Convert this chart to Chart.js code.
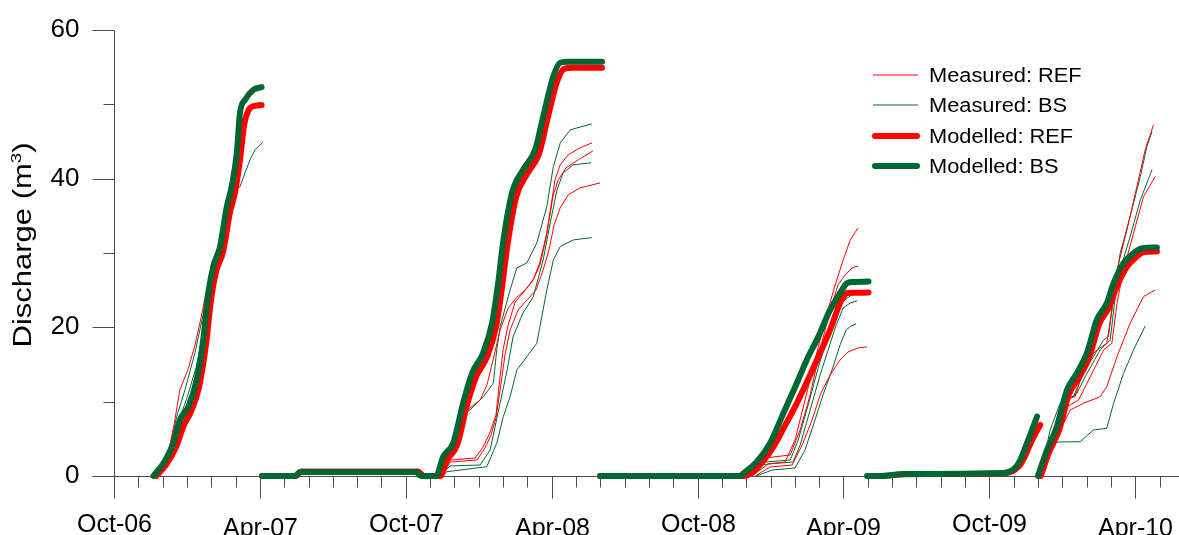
<!DOCTYPE html>
<html>
<head>
<meta charset="utf-8">
<title>Discharge</title>
<script src="https://cdn.jsdelivr.net/npm/chart.js@4"></script>
<style>
  html, body { margin: 0; padding: 0; background: #fff; }
</style>
</head>
<body>
<canvas id="dischargeChart" width="1179" height="535"></canvas>
<script>
// x = months since 1 Oct 2006, y = cumulative discharge (m3)
const tickLabels = ['Oct-06', 'Apr-07', 'Oct-07', 'Apr-08', 'Oct-08', 'Apr-09', 'Oct-09', 'Apr-10'];
const yMajor = [0, 20, 40, 60];
const yMinor = [10, 30, 50];
const legendLabels = ['Measured: REF', 'Measured: BS', 'Modelled: REF', 'Modelled: BS'];

// modelled, one array per continuous run
const modREF_0607 = [[1.73,0],[2.14,1.5],[2.55,3.9],[2.88,6.9],[3.17,8.7],[3.50,12.0],[3.78,17.6],[3.99,23.7],[4.20,27.5],[4.48,30.1],[4.77,35.5],[4.98,38.2],[5.18,42.5],[5.35,47.2],[5.55,49.3],[5.80,49.8],[6.07,49.9]];
const modBS_0607 = [[1.62,0],[2.03,1.71],[2.44,4.40],[2.71,7.54],[3.06,9.33],[3.40,12.92],[3.67,18.30],[3.88,24.59],[4.08,28.17],[4.36,30.86],[4.64,36.24],[4.84,38.93],[5.05,43.43],[5.18,48.82],[5.39,50.61],[5.73,51.95],[6.07,52.31]];
const modREF_0708 = [[6.09,0],[7.49,0],[7.69,0.62],[12.50,0.62],[12.75,0],[13.41,0],[13.70,2.15],[14.11,4.17],[14.52,9.56],[14.89,13.32],[15.34,16.02],[15.71,20.05],[15.96,25.44],[16.17,30.82],[16.54,37.55],[16.99,40.65],[17.48,43.34],[17.81,47.78],[18.22,53.03],[18.51,54.78],[18.85,54.91],[20.07,54.91]];
const modBS_0708 = [[6.09,0],[7.45,0],[7.65,0.55],[12.42,0.55],[12.63,0],[13.25,0],[13.53,2.56],[13.95,4.44],[14.36,9.83],[14.73,13.86],[15.18,16.55],[15.55,20.59],[15.80,25.98],[16.00,31.36],[16.37,38.09],[16.82,41.18],[17.32,43.88],[17.65,48.32],[18.06,53.70],[18.35,55.59],[18.70,55.72],[20.07,55.72]];
const modREF_0809 = [[19.99,0],[25.92,0],[26.16,0.27],[26.60,1.6],[27.12,3.94],[27.60,6.8],[28.08,9.78],[28.91,15.61],[29.45,19.65],[29.86,23.24],[30.14,24.59],[30.36,24.66],[31.03,24.67]];
const modBS_0809 = [[19.99,0],[25.75,0],[25.89,0.36],[26.44,1.92],[26.98,4.40],[27.53,8.44],[28.08,12.48],[28.49,15.61],[28.97,18.75],[29.45,22.34],[29.86,24.59],[30.14,25.94],[30.36,26.11],[31.03,26.15]];
const modREF_0910a = [[31.02,0],[31.55,0],[32.54,0.25],[36.65,0.38],[37.19,1.21],[37.43,2.42],[37.76,4.85],[38.09,6.86]];
const modBS_0910a = [[30.97,0],[31.51,0],[32.54,0.27],[36.57,0.4],[37.06,1.08],[37.27,2.15],[37.60,4.85],[37.96,7.98]];
const modREF_0910b = [[38.11,0],[38.46,3.23],[38.87,6.19],[39.28,11.04],[39.70,13.32],[40.11,16.02],[40.52,20.46],[40.93,22.75],[41.22,25.30],[41.63,27.99],[42.04,29.48],[42.37,30.15],[42.89,30.19]];
const modBS_0910b = [[38.00,0],[38.37,3.50],[38.78,6.64],[39.19,11.57],[39.60,13.82],[40.01,16.51],[40.42,21.00],[40.83,23.24],[41.11,25.94],[41.52,28.63],[41.93,29.97],[42.28,30.65],[42.89,30.73]];

// measured, one array per gauge and season
const measREF_0607 = [[1.65,0],[2.02,1.3],[2.30,4.2],[2.47,6.9],[2.71,11.6],[3.04,14.3],[3.33,17.6],[3.58,21.3],[3.78,24.6],[4.03,28.0],[4.32,30.4],[4.61,35.5],[4.81,38.2],[5.02,42.5],[5.20,47.0],[5.45,49.2],[5.80,49.8],[6.09,49.9]];
const measBS_0607a = [[1.65,0],[1.97,1.3],[2.30,3.9],[2.58,8.0],[2.92,11.6],[3.33,16.6],[3.62,21.0],[3.83,24.6],[4.07,28.0],[4.36,30.7],[4.65,35.8],[4.89,38.5],[5.18,38.9],[5.39,40.8],[5.59,42.5],[5.80,43.9],[6.12,44.9]];
const measBS_0607b = [[1.69,0],[2.02,1.2],[2.35,3.9],[2.67,7.5],[3.00,10.5],[3.37,14.5],[3.66,19.0],[3.87,23.7],[4.20,27.5],[4.48,30.1],[4.77,35.5],[4.98,38.2],[5.18,42.5],[5.35,47.2],[5.55,49.3],[6.09,49.8]];
const measREF_0708a = [[13.25,0],[13.62,1.75],[14.03,4.85],[14.32,8.34],[14.64,9.15],[15.06,10.23],[15.34,12.25],[15.59,15.61],[15.88,19.65],[16.21,22.61],[16.54,23.96],[16.91,25.03],[17.24,26.38],[17.52,28.40],[17.77,32.03],[17.98,36.47],[18.14,39.84],[18.35,41.86],[18.68,43.20],[19.17,44.15],[19.66,44.82]];
const measREF_0708b = [[13.41,0],[13.82,2.15],[14.85,2.42],[15.18,3.90],[15.47,5.92],[15.71,8.21],[15.84,12.25],[16.00,16.96],[16.21,20.32],[16.50,23.42],[16.82,24.63],[17.24,26.38],[17.52,28.80],[17.81,32.84],[18.06,37.69],[18.27,39.84],[18.59,41.45],[19.09,42.53],[19.70,43.74]];
const measREF_0708c = [[13.49,0],[13.82,1.88],[14.93,2.15],[15.26,3.77],[15.51,5.52],[15.71,7.81],[15.88,11.57],[16.08,16.29],[16.29,19.65],[16.62,22.34],[16.99,23.69],[17.36,25.03],[17.65,27.73],[17.89,30.42],[18.10,33.78],[18.35,36.07],[18.68,37.82],[19.17,38.76],[19.99,39.43]];
const measBS_0708a = [[13.16,0],[13.53,1.25],[13.95,3.50],[14.36,8.61],[14.64,8.88],[15.19,10.67],[15.60,12.48],[15.74,16.96],[15.88,20.09],[16.29,25.03],[16.57,28.0],[16.98,28.67],[17.39,31.36],[17.80,36.24],[18.07,41.63],[18.35,44.78],[18.76,46.57],[19.65,47.38]];
const measBS_0708b = [[13.41,0],[13.82,1.35],[15.06,1.48],[15.47,3.50],[15.88,9.83],[16.17,14.27],[16.41,18.71],[16.82,21.94],[17.24,24.09],[17.65,29.07],[17.94,34.05],[18.22,38.49],[18.47,40.78],[18.88,41.86],[19.62,42.13]];
const measBS_0708c = [[13.49,0],[13.69,0.58],[15.33,1.25],[15.74,4.40],[16.01,7.98],[16.29,10.67],[16.57,14.27],[16.98,16.06],[17.39,17.86],[17.80,25.03],[18.07,29.07],[18.35,30.86],[18.89,31.76],[19.65,32.07]];
const measREF_0809a = [[26.08,0],[26.57,1.48],[27.60,1.88],[28.01,4.85],[28.42,10.23],[28.83,15.61],[29.25,21.00],[29.66,25.71],[29.99,29.07],[30.28,31.76],[30.60,33.38]];
const measREF_0809b = [[26.24,0],[26.78,2.42],[27.81,2.83],[28.22,6.19],[28.63,10.90],[29.04,16.96],[29.45,22.34],[29.78,25.71],[30.07,27.05],[30.36,27.99],[30.60,28.26]];
const measREF_0809c = [[26.37,0],[26.98,1.21],[27.89,1.48],[28.30,4.17],[28.71,7.54],[29.04,10.90],[29.45,13.59],[29.86,15.61],[30.19,16.69],[30.60,17.23],[30.97,17.36]];
const measBS_0809a = [[26.16,0],[26.78,1.88],[27.81,2.15],[28.14,4.85],[28.55,9.56],[28.96,14.54],[29.29,18.30],[29.62,21.27],[29.95,23.42],[30.28,24.23],[30.56,24.63]];
const measBS_0809b = [[26.24,0],[26.90,1.62],[27.93,1.88],[28.22,4.17],[28.63,8.88],[29.04,13.59],[29.37,16.96],[29.70,20.32],[29.99,22.61],[30.28,23.28],[30.56,23.55]];
const measBS_0809c = [[26.41,0],[27.07,0.81],[28.01,1.08],[28.42,3.50],[28.83,7.54],[29.16,10.90],[29.53,14.27],[29.86,17.63],[30.11,19.65],[30.32,20.19],[30.52,20.46]];
const measREF_0910a = [[38.16,0],[38.57,5.29],[38.98,10.23],[39.53,10.67],[39.94,15.17],[40.42,16.96],[40.83,17.86],[41.04,22.34],[41.25,27.73],[41.66,33.11],[42.07,38.94],[42.41,43.88],[42.75,47.24]];
const measREF_0910b = [[38.22,0],[38.63,4.17],[39.12,9.15],[39.67,10.23],[40.15,13.36],[40.70,16.96],[41.04,17.86],[41.25,23.24],[41.52,27.73],[41.93,32.66],[42.34,37.59],[42.82,40.28]];
const measREF_0910c = [[38.13,0],[38.50,5.29],[38.91,6.19],[39.33,8.88],[39.87,9.78],[40.56,10.67],[40.83,12.02],[41.25,16.06],[41.79,20.55],[42.34,24.13],[42.82,25.03]];
const measBS_0910a = [[38.09,0],[38.50,6.19],[38.91,9.78],[39.46,10.67],[39.87,13.82],[40.28,16.06],[40.70,18.30],[40.90,18.75],[41.11,24.13],[41.38,29.97],[41.79,34.90],[42.21,40.28],[42.48,44.32],[42.69,46.34]];
const measBS_0910b = [[38.22,0],[38.63,4.85],[39.05,9.78],[39.60,11.13],[39.98,13.59],[40.56,16.96],[40.97,18.30],[41.18,24.13],[41.38,27.73],[41.79,32.21],[42.21,37.15],[42.69,41.18]];
const measBS_0910c = [[38.09,0],[38.43,4.40],[38.91,4.58],[39.74,4.62],[40.28,6.19],[40.83,6.42],[41.11,9.78],[41.52,13.82],[41.93,16.96],[42.41,20.19]];

const RED = '#ff0000';
const GREEN = '#006633';
const AXIS = '#4a4a4a';
const FONT = '"Liberation Sans", Arial, sans-serif';

const toPoints = arr => arr.map(([x, y]) => ({ x, y }));

// join runs into one dataset, breaking the line between them
function withGaps(...runs) {
    const out = [];
    runs.forEach((run, i) => {
        if (i > 0) out.push({ x: run[0][0], y: null });
        out.push(...toPoints(run));
    });
    return out;
}

const measuredREF = [measREF_0607, measREF_0708a, measREF_0708b, measREF_0708c, measREF_0809a, measREF_0809b, measREF_0809c, measREF_0910a, measREF_0910b, measREF_0910c];
const measuredBS = [measBS_0607a, measBS_0607b, measBS_0708a, measBS_0708b, measBS_0708c, measBS_0809a, measBS_0809b, measBS_0809c, measBS_0910a, measBS_0910b, measBS_0910c];

const thin = (run, color) => ({
    data: toPoints(run), borderColor: color, borderWidth: 1, tension: 0, order: 2, clip: false
});
const thick = (label, data, color, order) => ({
    label, data, borderColor: color, borderWidth: 6, order, clip: false,
    cubicInterpolationMode: 'monotone', borderCapStyle: 'round', borderJoinStyle: 'round'
});

function stretchedText(ctx, text, x, y, sx) {
    ctx.save();
    ctx.translate(x, y);
    ctx.scale(sx, 1);
    ctx.fillText(text, 0, 0);
    ctx.restore();
}

const axesPlugin = {
    id: 'axes',
    beforeDatasetsDraw(chart) {
        const { ctx, scales: { x, y } } = chart;
        const px = v => Math.round(x.getPixelForValue(v)) + 0.5;
        const py = v => Math.round(y.getPixelForValue(v)) + 0.5;
        const x0 = px(0), y0 = py(0);
        ctx.save();
        ctx.strokeStyle = AXIS;
        ctx.lineWidth = 1;
        ctx.beginPath();
        ctx.moveTo(x0 - 22, y0); ctx.lineTo(x.right, y0);
        ctx.moveTo(x0, py(60)); ctx.lineTo(x0, y0 + 22);
        yMajor.forEach(v => { ctx.moveTo(x0 - 22, py(v)); ctx.lineTo(x0, py(v)); });
        yMinor.forEach(v => { ctx.moveTo(x0 - 11, py(v)); ctx.lineTo(x0, py(v)); });
        for (let m = 1; m <= Math.floor(x.max); m++) {
            const len = m % 6 === 0 ? 22 : 11;
            ctx.moveTo(px(m), y0); ctx.lineTo(px(m), y0 + len);
        }
        ctx.stroke();

        ctx.fillStyle = '#000';
        ctx.font = '26px ' + FONT;
        ctx.textAlign = 'right';
        ctx.textBaseline = 'middle';
        yMajor.forEach(v => ctx.fillText(String(v), x0 - 35, py(v) - 1));

        ctx.font = '25px ' + FONT;
        ctx.textAlign = 'center';
        ctx.textBaseline = 'alphabetic';
        tickLabels.forEach((t, i) => {
            ctx.fillText(t, px(i * 6), y0 + (i % 2 ? 59 : 55));
        });

        // axis title with superscript, drawn bottom-to-top
        ctx.save();
        ctx.translate(31, (y.top + y.bottom) / 2 - 8);
        ctx.rotate(-Math.PI / 2);
        ctx.scale(1.24, 1);
        ctx.textAlign = 'left';
        ctx.font = '25px ' + FONT;
        const main = 'Discharge (m';
        const wMain = ctx.measureText(main).width;
        const wClose = ctx.measureText(')').width;
        ctx.font = '15px ' + FONT;
        const wSup = ctx.measureText('3').width;
        let cx = -(wMain + wSup + wClose) / 2;
        ctx.font = '25px ' + FONT;
        ctx.fillText(main, cx, 0);
        cx += wMain;
        ctx.font = '15px ' + FONT;
        ctx.fillText('3', cx, -10);
        cx += wSup;
        ctx.font = '25px ' + FONT;
        ctx.fillText(')', cx, 0);
        ctx.restore();
        ctx.restore();
    }
};

const legendPlugin = {
    id: 'keyBox',
    afterDraw(chart) {
        const { ctx } = chart;
        const styles = [[RED, 1.2], [GREEN, 1.2], [RED, 6], [GREEN, 6]];
        const left = 873, top = 75, step = 30.4;
        ctx.save();
        ctx.font = '20px ' + FONT;
        ctx.fillStyle = '#000';
        ctx.textBaseline = 'alphabetic';
        legendLabels.forEach((label, i) => {
            const yy = Math.round(top + i * step);
            const [color, w] = styles[i];
            const bold = w > 2;
            ctx.strokeStyle = color;
            ctx.lineWidth = w;
            ctx.lineCap = bold ? 'round' : 'butt';
            ctx.beginPath();
            ctx.moveTo(left + (bold ? 2 : 0), yy);
            ctx.lineTo(left + (bold ? 44 : 45), yy);
            ctx.stroke();
            stretchedText(ctx, label, left + 56, yy + 7, 1.09);
        });
        ctx.restore();
    }
};

new Chart(document.getElementById('dischargeChart'), {
    type: 'line',
    data: {
        datasets: [
            ...measuredREF.map(r => thin(r, RED)),
            ...measuredBS.map(r => thin(r, GREEN)),
            thick('Modelled: REF', withGaps(modREF_0607, modREF_0708, modREF_0809, modREF_0910a, modREF_0910b), RED, 1),
            thick('Modelled: BS', withGaps(modBS_0607, modBS_0708, modBS_0809, modBS_0910a, modBS_0910b), GREEN, 0)
        ]
    },
    options: {
        responsive: false,
        animation: false,
        devicePixelRatio: 1,
        events: [],
        layout: { padding: { left: 114, top: 30, right: 0, bottom: 59 } },
        elements: { point: { radius: 0, hoverRadius: 0 }, line: { fill: false } },
        scales: {
            x: { type: 'linear', min: 0, max: 43.8, display: false },
            y: { type: 'linear', min: 0, max: 60, display: false }
        },
        plugins: { legend: { display: false }, tooltip: { enabled: false } }
    },
    plugins: [axesPlugin, legendPlugin]
});
</script>
</body>
</html>
